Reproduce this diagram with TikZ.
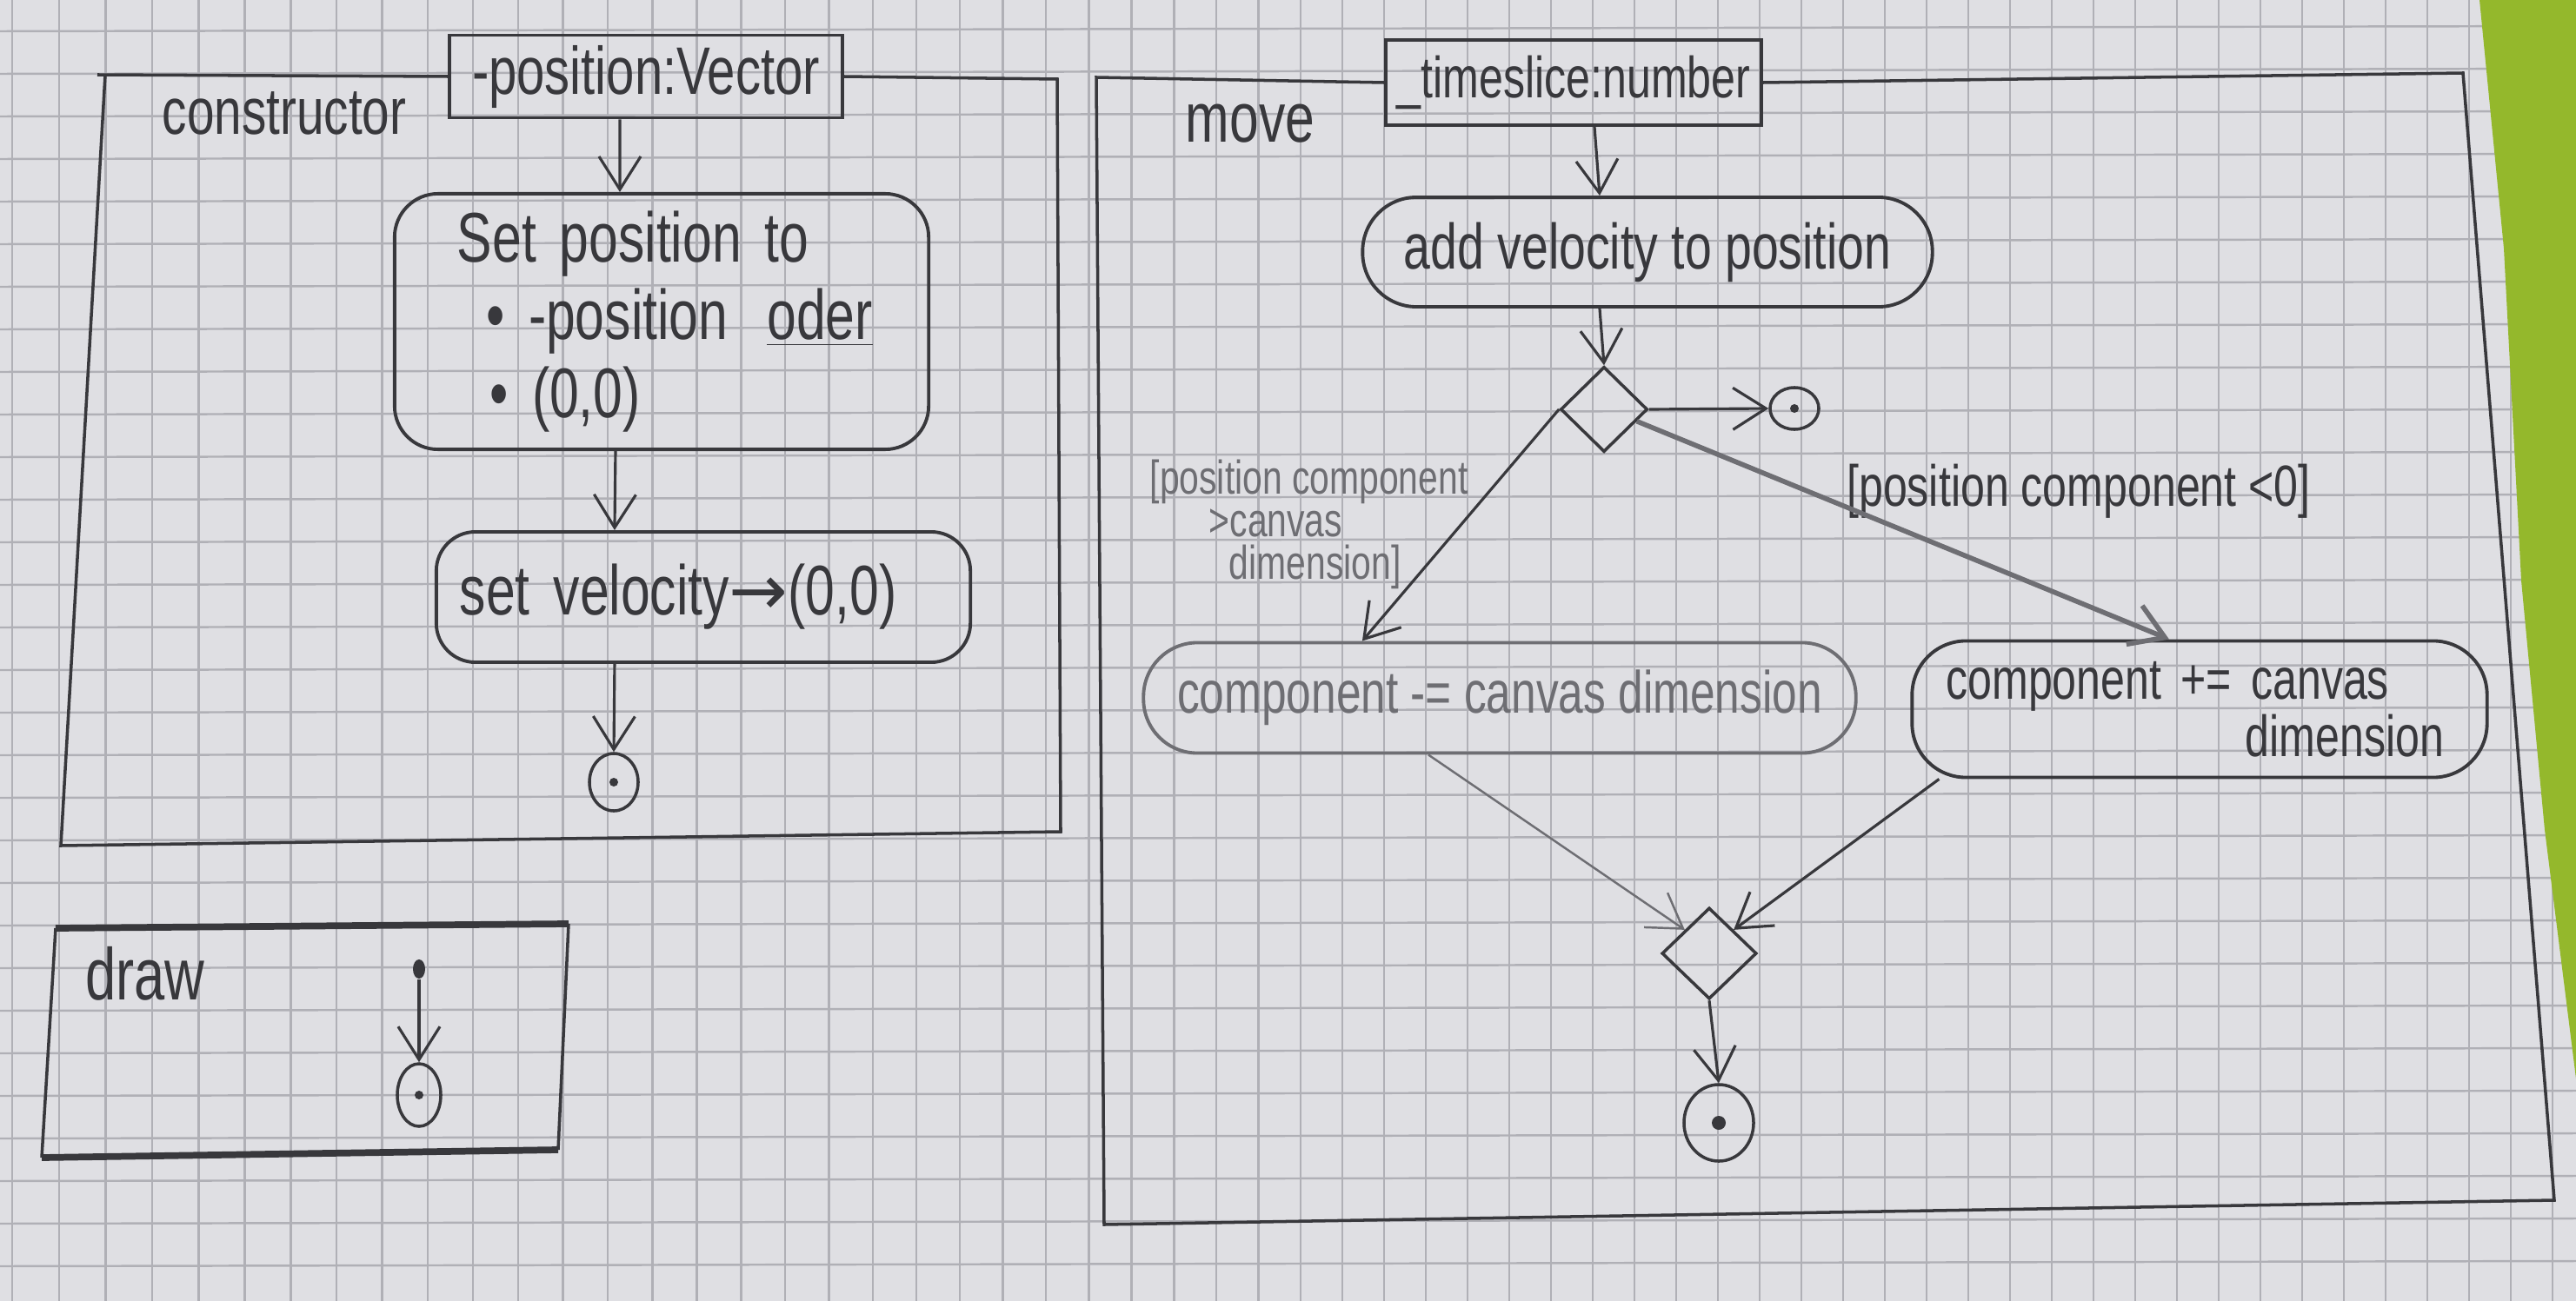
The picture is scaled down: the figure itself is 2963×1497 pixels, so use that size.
\documentclass[tikz,border=0pt]{standalone}
\usepackage{fontspec}
\setmainfont[FakeStretch=0.75]{Liberation Sans}
\newfontfamily\arrfont{DejaVu Sans}
\usetikzlibrary{arrows.meta,shapes.geometric}
\definecolor{paper}{HTML}{DFDFE3}
\definecolor{gridc}{HTML}{B0B0B6}
\definecolor{ink}{HTML}{38383C}
\definecolor{lightink}{HTML}{6E6E73}
\definecolor{leaf}{HTML}{94B82C}
\begin{document}
\begin{tikzpicture}[x=0.01cm,y=-0.01cm,
  gridline/.style={draw=gridc, line width=0.7pt},
  frame/.style={draw=ink, line width=1pt},
  parambox/.style={draw=ink, line width=1.1pt, inner sep=0pt, text=ink},
  action/.style={draw=ink, line width=1.1pt, inner sep=0pt, text=ink},
  arr/.style={draw=ink, line width=0.9pt, -{Straight Barb[length=0.38cm,width=0.48cm]}},
  finalnode/.style={ellipse, draw=ink, line width=1pt, inner sep=0pt},
  decnode/.style={diamond, draw=ink, line width=1pt, inner sep=0pt},
  lbl/.style={text=ink, inner sep=0pt}]
\useasboundingbox (0,0) rectangle (2963,1497);
% paper and grid
\fill[paper] (0,0) rectangle (2963,1497);
\foreach \i in {0,...,30} \draw[gridline] ({14+54*\i-0.1*\i*\i},0) -- ({14+54*\i-0.1*\i*\i},1497);
\foreach \i in {31,...,60} \draw[gridline] ({1544+48*(\i-30)},0) -- ({1544+48*(\i-30)},1497);
\foreach \j in {0,...,30} \draw[gridline] (0,{36+49*\j}) -- (2963,{30+49*\j});
\fill[leaf] (2852,0) -- (2963,0) -- (2963,1241) -- (2927,955) -- (2900,668) -- (2880,286) -- cycle;

% ---------- constructor ----------
\node[parambox, minimum width=4.51cm, minimum height=0.95cm, font=\fontsize{22}{24}\selectfont] (ppos) at (743,88) {-position:Vector};
\draw[frame] (ppos.west) -- (112,86);
\draw[frame] (121,86) -- (70,973) -- (1220,957) -- (1216,91) -- (ppos.east);
\node[lbl, font=\fontsize{21.5}{24}\selectfont] (tcons) at (327,130) {constructor};
\node[action, rounded corners=0.5cm, minimum width=6.14cm, minimum height=2.94cm,
      text width=5.3cm, align=left, font=\fontsize{23}{25.5}\selectfont] (act1) at (761,370)
  {\hspace*{0.3cm}Set position to\\\hspace*{0.64cm}• -position\hspace{0.45cm}\underline{oder}\\\hspace*{0.68cm}• (0,0)};
\node[action, rounded corners=0.45cm, minimum width=6.14cm, minimum height=1.5cm,
      text width=5.6cm, align=left, font=\fontsize{23}{26}\selectfont] (act2) at (809,687)
  {\raisebox{0.17cm}{set velocity{\arrfont →}(0,0)}};
\node[finalnode, minimum width=0.56cm, minimum height=0.66cm] (fin1) at (706,900) {};
\fill[ink] (fin1.center) circle (0.05cm);
\draw[arr] ([xshift=-0.3cm]ppos.south) -- ([xshift=-0.48cm]act1.north);
\draw[arr] ([xshift=-0.53cm]act1.south) -- ([xshift=-1.02cm]act2.north);
\draw[arr] ([xshift=-1.02cm]act2.south) -- (fin1.north);

% ---------- draw ----------
\draw[frame] (64,1068) -- (48,1332);
\draw[frame] (654,1063) -- (642,1323);
\draw[draw=ink, line width=2.2pt] (64,1068) -- (654,1063);
\draw[draw=ink, line width=2.2pt] (48,1332) -- (642,1323);
\node[lbl, font=\fontsize{24}{26}\selectfont] (tdraw) at (167,1120) {draw};
\node[ellipse, fill=ink, inner sep=0pt, minimum width=0.14cm, minimum height=0.22cm] (init) at (482,1115) {};
\node[finalnode, minimum width=0.5cm, minimum height=0.72cm] (fin2) at (482,1260) {};
\fill[ink] (fin2.center) circle (0.05cm);
\draw[arr] (init) -- (fin2.north);

% ---------- move ----------
\node[parambox, minimum width=4.32cm, minimum height=0.98cm, font=\fontsize{19}{22}\selectfont] (pts) at (1810,95) {\_timeslice:number};
\draw[frame] (pts.west) -- (1261,89) -- (1270,1409) -- (2938,1381) -- (2833,84) -- (pts.east);
\node[lbl, font=\fontsize{23}{26}\selectfont] (tmove) at (1438,142) {move};
\node[action, rounded corners=0.62cm, minimum width=6.55cm, minimum height=1.26cm,
      font=\fontsize{21}{24}\selectfont] (add) at (1895,290) {add velocity to position};
\node[decnode, minimum width=1.0cm, minimum height=0.98cm] (dec1) at (1845,471) {};
\node[finalnode, minimum width=0.56cm, minimum height=0.48cm] (fin3) at (2064,470) {};
\fill[ink] (fin3.center) circle (0.05cm);
\node[action, draw=lightink, text=lightink, rounded corners=0.62cm, minimum width=8.19cm, minimum height=1.27cm,
      font=\fontsize{19.5}{22}\selectfont] (comp1) at (1725,803) {component -= canvas dimension};
\node[action, rounded corners=0.62cm, minimum width=6.61cm, minimum height=1.57cm,
      text width=5.83cm, align=left, font=\fontsize{19}{15}\selectfont] (comp2) at (2530,816)
  {component += canvas\\\hspace*{3.44cm}dimension};
\node[decnode, minimum width=1.09cm, minimum height=1.05cm] (dec2) at (1966,1097) {};
\node[finalnode, minimum width=0.8cm, minimum height=0.88cm] (fin4) at (1977,1292) {};
\fill[ink] (fin4.center) circle (0.08cm);
\node[lbl, text=lightink, anchor=north west, align=left, font=\fontsize{15.5}{14}\selectfont] (g1) at (1322,528)
  {[position component\\\hspace*{0.68cm}>canvas\\\hspace*{0.91cm}dimension]};
\node[lbl, font=\fontsize{19}{22}\selectfont] (g2) at (2391,565) {[position component <0]};

\draw[arr] ([xshift=0.24cm]pts.south) -- ([xshift=-0.55cm]add.north);
\draw[arr] ([xshift=-0.55cm]add.south) -- (dec1.north);
\draw[arr] (dec1.east) -- (fin3.west);
\draw[arr] (dec1.west) -- ([xshift=-1.58cm]comp1.north);
\draw[arr, draw=lightink, line width=1.6pt] (dec1.-20) -- ([xshift=-0.35cm]comp2.north);
\draw[arr, draw=lightink, line width=0.7pt] ([xshift=-0.82cm]comp1.south) -- (dec2.north west);
\draw[arr] ([xshift=0.33cm]comp2.south west) -- (dec2.north east);
\draw[arr] (dec2.south) -- (fin4.north);
\end{tikzpicture}
\end{document}
